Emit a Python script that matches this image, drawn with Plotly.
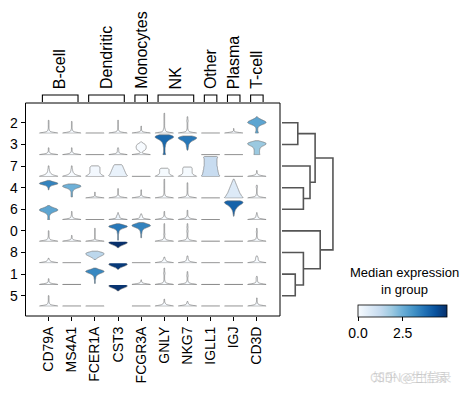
import numpy as np
import plotly.graph_objects as go
from plotly.colors import sequential, sample_colorscale

# ---------------- data ----------------
genes = ["CD79A", "MS4A1", "FCER1A", "CST3", "FCGR3A", "GNLY", "NKG7", "IGLL1", "IGJ", "CD3D"]
gene_groups = ["B-cell", "Dendritic", "Monocytes", "NK", "Other", "Plasma", "T-cell"]
group_start = [0, 2, 4, 5, 7, 8, 9]
group_end = [1, 3, 4, 6, 7, 8, 9]
clusters = ["2", "3", "7", "4", "6", "0", "8", "1", "5"]   # dendrogram order
bin_step = 0.25   # expression level of consecutive counts below: 0, 0.25, 0.5, ...

# number of cells per expression bin, one string per gene
counts_2 = ["40 6 3 2 1 1 1 1 1 1 1 1", "40 6 3 2 1 1 1 1 1 1 1", "40", "40 5 3 1 1 1 1 1 1 1 1 1",
            "40 3 2 1 1 1 1", "40 6 4 3 2 1 1 1 1 1 1 1 1 1 1 1 1 1", "40 5 3 2 1 1 1 1 1 1 2 2 1 1 1",
            "40", "40 2 1 0 1", "4 3 2 2 2 3 5 10 18 22 20 14 8 3 1"]
counts_3 = ["40 5 3 1 1 1 1", "40 5 3 1 1 1 1", "40", "40 5 3 2 2 2 1",
            "40 6 1 5 12 14 15 15 14 12 5 1", "4 3 2 2 2 2 2 3 3 4 5 7 10 15 22 26 24 14",
            "0 0 0 0 1 2 2 3 3 4 6 9 14 20 25 24 12", "40", "40", "10 8 8 8 8 9 10 14 22 28 28 18 4"]
counts_7 = ["30 12 7 4 3 2 2 1 1 1", "30 12 7 4 3 2 2 1 1 1", "25 16 13 11 11 11 11 11 11 8",
            "20 18 16 15 14 13 12 11 10 9 8", "40", "25 14 11 10 10 10 10 8", "25 14 11 10 10 10 10 10 9",
            "20 16 15 15 14 14 13 13 13 12 12 12 12 12 12 12 13 14", "40", "40 5 3 1 1 1"]
counts_4 = ["0 0 0 0 0 0 0 1 1 2 4 10 24 22 9 3", "0 2 2 2 2 2 3 5 10 20 26 22 8", "40 1 1 1 1 1",
            "40 5 3 1 1 1 1 1 1", "40 5 2 1 1 1 1 1", "40 6 3 2 1 1 1 1 1 1 1 1 1 1 1 1 1",
            "40 6 3 2 1 1 1 1 1 1 1 1 1 1", "40", "22 18 16 15 13 12 11 10 9 8 7 6 5 4 3 2 1",
            "40 6 3 2 1 1 1 1 1 2 2 1"]
counts_6 = ["3 2 2 2 3 5 10 18 24 22 14 6 2", "40 6 3 2 1 1 1 1", "40", "40 6 5 5 3 1 1", "40 6 4 4 2 1",
            "40 8 4 2 1 1 1 1", "40 8 4 2 1 1 1 1 1", "40", "0 0 0 1 1 2 2 3 4 6 8 11 15 20 25 26 20",
            "40 6 4 3 2 1 1"]
counts_0 = ["40 6 3 2 1 1 1 1 1 1", "40 5 2 1 1 1", "40 1 1 1 1 1 1 1 1 1 1 1",
            "0 1 1 1 1 1 1 2 2 3 6 12 22 24 12 3", "0 0 0 1 1 1 1 2 2 3 5 9 16 24 22 14 5",
            "40 6 3 2 1 1 2 1 1 1 1 1 1 1 1 1", "40 6 3 2 1 1 1 1 2 2 1 1 2 1 1 1", "40", "40",
            "40 6 3 2 1 1 1 1 2 1 1 1"]
counts_8 = ["40 8 4 2 1", "40", "0 0 0 2 5 10 16 22 24 18 6",
            "0 0 0 0 0 0 0 0 0 0 0 0 0 1 3 8 14 18 16 10 4", "40", "40 8 5 3 2 1", "40 8 4 3 2 2 1",
            "40", "40", "40 8 5 4 4 3 1"]
counts_1 = ["40 5 2 1 1 1", "40", "0 1 1 1 1 2 2 3 5 10 18 24 20 9 2",
            "0 0 0 0 0 0 0 0 0 0 0 0 0 1 3 8 14 18 16 10 4", "40 5 2 1 1",
            "40 6 3 2 1 1 1 1 1 2 2 1 1 1 1", "40 6 3 2 1 1 1 2 2 1 1 1", "40", "40", "40 6 3 2 2 2 2 1"]
counts_5 = ["40 6 3 2 1 1 1 1 1 1", "40", "40", "0 0 0 0 0 0 0 0 0 0 0 0 0 1 3 8 14 18 16 10 4",
            "40", "40 8 4 2 1 1 1", "40 5 3 2 1", "40", "40", "40 6 3 2 1 1 1 1"]

# median expression in group (colour of each violin)
median_2 = [0, 0, 0, 0, 0, 0, 0, 0, 0, 2.7]
median_3 = [0, 0, 0, 0, 0, 3.9, 3.6, 0, 0, 1.9]
median_7 = [0, 0, 0.1, 0.35, 0, 0.05, 0.05, 1.2, 0, 0]
median_4 = [3.4, 2.45, 0, 0, 0, 0, 0, 0, 0.65, 0]
median_6 = [2.7, 0, 0, 0.3, 0, 0, 0, 0, 4.0, 0]
median_0 = [0, 0, 0, 3.6, 3.4, 0, 0, 0, 0, 0]
median_8 = [0, 0, 1.4, 4.98, 0, 0, 0, 0, 0, 0]
median_1 = [0, 0, 3.3, 4.8, 0, 0, 0, 0, 0, 0]
median_5 = [0, 0, 0, 4.9, 0, 0, 0, 0, 0, 0]

# dendrogram merges: (child a, child b, height)
dendro_merges = [("1", "5", 0.26), ("2", "3", 0.31), ("4", "6", 0.42), ("8", "m0", 0.42),
                 ("7", "m2", 0.55), ("m1", "m4", 0.65), ("0", "m3", 0.75), ("m5", "m6", 1.0)]

row_counts = [counts_2, counts_3, counts_7, counts_4, counts_6, counts_0, counts_8, counts_1, counts_5]
row_medians = [median_2, median_3, median_7, median_4, median_6, median_0, median_8, median_1, median_5]

# ---------------- layout helpers ----------------
W, H = 465, 394
FONT = "Arial, Liberation Sans, sans-serif"
def fx(px): return px / W
def fy(px): return 1 - px / H

band_top, band_bot = 112.0, 306.6
bh = (band_bot - band_top) / len(clusters)
YR = [-0.08, 4.5]

blues = sequential.Blues
cmax = max(max(m) for m in row_medians)

fig = go.Figure()
layout = dict(width=W, height=H, margin=dict(l=0, r=0, t=0, b=0, autoexpand=False), template="none",
              paper_bgcolor="white", plot_bgcolor="white", showlegend=False,
              font=dict(family=FONT, color="black", size=14), violinmode="overlay")

layout["xaxis"] = dict(domain=[fx(25.5), fx(280)], range=[-1, 10], type="linear", anchor="free",
                       position=fy(316), tickmode="array", tickvals=list(range(len(genes))),
                       ticktext=genes, tickangle=-90, ticks="outside", ticklen=4, tickcolor="black",
                       tickfont=dict(size=14), showgrid=False, zeroline=False, showline=False,
                       automargin=False)

for k, (cl, cnts, meds) in enumerate(zip(clusters, row_counts, row_medians)):
    yname = "y" if k == 0 else f"y{k+1}"
    lname = "yaxis" if k == 0 else f"yaxis{k+1}"
    layout[lname] = dict(domain=[fy(band_top + bh * (k + 1)), fy(band_top + bh * k)], range=YR,
                         anchor="x", tickmode="array", tickvals=[(YR[0] + YR[1]) / 2], ticktext=[cl],
                         ticks="outside", ticklen=4, tickcolor="black", tickfont=dict(size=14),
                         showgrid=False, zeroline=False, showline=False, automargin=False)
    for j, s in enumerate(cnts):
        c = [int(v) for v in s.split()]
        levels = bin_step * np.arange(len(c))
        samples = np.repeat(levels, c)
        lo, hi = float(samples.min()), float(samples.max())
        if hi - lo < 0.04:
            hi = lo + 0.04
        col = sample_colorscale(blues, [min(meds[j] / cmax, 1.0)])[0]
        fig.add_trace(go.Violin(x0=j, y=samples, xaxis="x", yaxis=yname, width=0.8,
                                scalemode="width", spanmode="manual", span=[lo, hi],
                                bandwidth=0.15, fillcolor=col, line=dict(color="#707070", width=0.6),
                                points=False, hoverinfo="skip", showlegend=False, opacity=1))

# ---- dendrogram ----
pos = {c: i for i, c in enumerate(clusters)}
hgt = {c: 0.0 for c in clusters}
dx, dy = [], []
for m, (a, b, h) in enumerate(dendro_merges):
    pa, pb = pos[a], pos[b]
    dx += [hgt[a], h, h, hgt[b], None]
    dy += [pa, pa, pb, pb, None]
    pos[f"m{m}"] = (pa + pb) / 2
    hgt[f"m{m}"] = h
fig.add_trace(go.Scatter(x=dx, y=dy, xaxis="x2", yaxis="y10", mode="lines",
                         line=dict(color="#555555", width=1.6), hoverinfo="skip"))
layout["xaxis2"] = dict(domain=[fx(282), fx(336)], range=[0, 1.06], visible=False, anchor="y10")
layout["yaxis10"] = dict(domain=[fy(band_bot), fy(band_top)], range=[len(clusters) - 0.5, -0.5],
                         visible=False, anchor="x2")

# ---- group brackets ----
bx, by = [], []
for a, b in zip(group_start, group_end):
    bx += [a - 0.27, a - 0.27, b + 0.27, b + 0.27, None]
    by += [0, 1, 1, 0, None]
fig.add_trace(go.Scatter(x=bx, y=by, xaxis="x", yaxis="y11", mode="lines",
                         line=dict(color="black", width=1.1), hoverinfo="skip"))
layout["yaxis11"] = dict(domain=[fy(103.5), fy(94)], range=[-0.214, 1.143], visible=False, anchor="x")

annotations = []
for g, a, b in zip(gene_groups, group_start, group_end):
    annotations.append(dict(text=g, x=(a + b) / 2, xref="x", y=fy(91), yref="paper",
                            textangle=-90, xanchor="center", yanchor="bottom", showarrow=False,
                            font=dict(size=16, family=FONT)))

# ---- colour bar ----
fig.add_trace(go.Scatter(x=[0], y=[0], xaxis="x2", yaxis="y10", mode="markers",
                         marker=dict(size=0.1, opacity=0, color=[0], cmin=0, cmax=cmax,
                                     colorscale=blues, showscale=True,
                                     colorbar=dict(orientation="h", x=fx(402.5), xanchor="center",
                                                   y=fy(305), yanchor="top", len=89, lenmode="pixels",
                                                   thickness=12, thicknessmode="pixels",
                                                   outlinewidth=0.8, outlinecolor="black",
                                                   tickvals=[0, 2.5], ticktext=["0.0", "2.5"],
                                                   ticks="outside", ticklen=4, tickcolor="black",
                                                   tickfont=dict(size=14), xpad=0, ypad=0)),
                         hoverinfo="skip"))
annotations.append(dict(text="Median expression<br>in group", x=fx(404), y=fy(299), xref="paper",
                        yref="paper", xanchor="center", yanchor="bottom", showarrow=False,
                        font=dict(size=13, family=FONT)))

# watermark
for t in ["CSDN @生信录", "知乎 @生信录"]:
    annotations.append(dict(text=t, x=fx(410), y=fy(376), xref="paper", yref="paper",
                            xanchor="center", yanchor="middle", showarrow=False,
                            font=dict(size=12, color="rgba(190,190,190,0.6)",
                                      family="Noto Sans CJK SC")))

layout["annotations"] = annotations
layout["shapes"] = [dict(type="rect", xref="paper", yref="paper", x0=fx(25.5), x1=fx(280),
                         y0=fy(316), y1=fy(103), line=dict(color="black", width=1))]
fig.update_layout(**layout)
fig.write_html("out.html", config={"displayModeBar": False},
               post_script="document.body.style.margin='0px';document.body.style.overflow='hidden';")
